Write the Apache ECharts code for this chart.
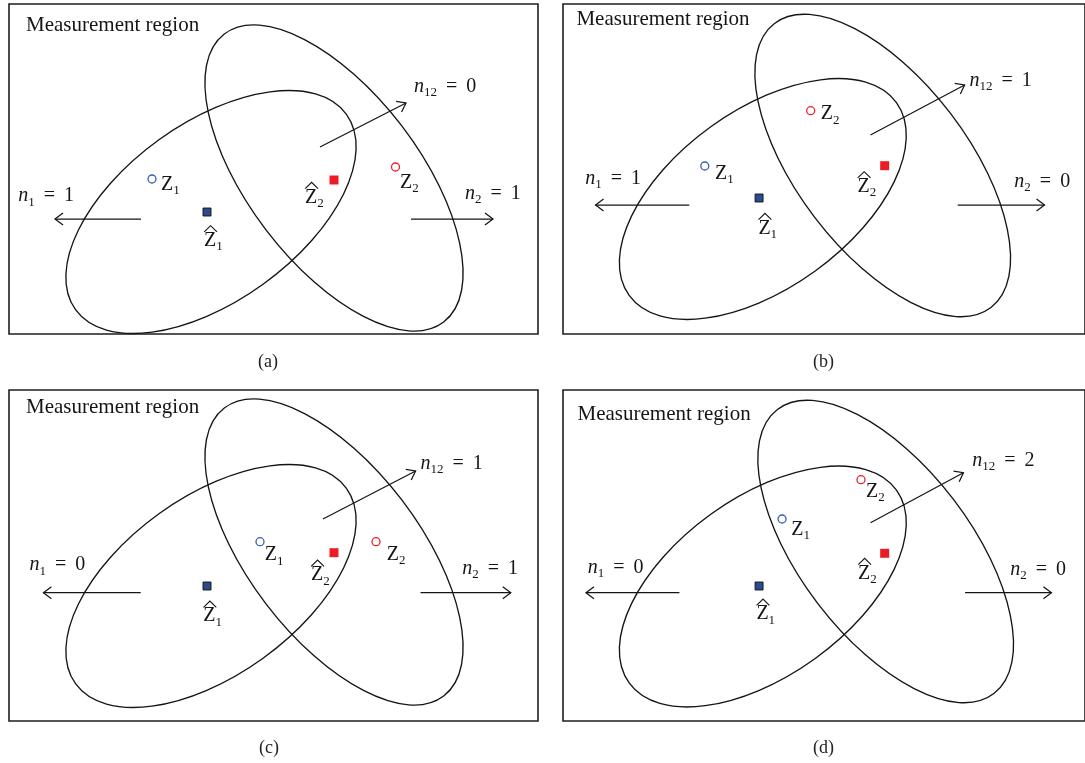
<!DOCTYPE html>
<html>
<head>
<meta charset="utf-8">
<script src="https://cdn.jsdelivr.net/npm/echarts@6/dist/echarts.min.js"></script>
<style>
  html, body { margin: 0; padding: 0; background: #fff; }
  #chart { width: 1085px; height: 763px; }
</style>
</head>
<body>
<div id="chart"></div>
<script>
// ---- Data: two tracks, their validation gates and the measurements, per panel (a)-(d) ----
const panelNames = ['(a)', '(b)', '(c)', '(d)'];

// Gate ellipse centres (measurement-space units)
const gate1Centre = [[202, 208], [202.5, 195], [202, 196], [202.5, 196.5]];
const gate2Centre = [[325, 174], [324, 161.5], [325, 162], [327, 161.5]];
// Gate shape: semi-major axis, semi-minor axis, tilt in degrees
const gate1Shape = [167, 89, 35.8];
const gate2Shape = [181, 85.5, -52.7];

// Predicted measurements (Ẑ1, Ẑ2)
const predicted1 = [[198, 208], [198.7, 194], [198, 196], [198.7, 196]];
const predicted2 = [[325, 176], [326, 161.7], [325, 162.7], [326, 163.3]];
// Received measurements (Z1, Z2)
const measured1 = [[143, 175], [143.7, 162], [251, 151.7], [222, 129]];
const measured2 = [[386.5, 163], [251, 106.7], [367, 151.7], [302, 89.7]];

// Measurement counts: only in gate 1, in both gates, only in gate 2
const n1Counts = [1, 1, 0, 0];
const n12Counts = [0, 1, 1, 2];
const n2Counts = [1, 0, 1, 0];

// ---- Layout ----
const panelBox = [[9, 4, 529, 330], [563, 4, 529, 330], [9, 390, 529, 331], [563, 390, 529, 331]];
const captionAt = [[268, 362], [823.6, 362], [269, 748], [823.6, 748]];

// Arrows: tail x, tail y, head x, head y
const arrowN1 = [[132, 215, 46, 215], [128, 201, 33, 201], [131.7, 202.7, 34.4, 202.7], [118, 202.7, 23.3, 202.7]];
const arrowN12 = [[311, 143, 397, 99], [311.6, 131, 407, 81], [314, 129, 406.6, 81], [311.6, 132.7, 405.8, 82.7]];
const arrowN2 = [[402, 215, 484, 215], [400, 201, 488, 201], [411.5, 202.7, 501.8, 202.7], [407.5, 202.7, 495, 202.7]];

// Text anchors: left x, baseline y
const titleAt = [[17, 28.5], [13.6, 22.7], [17, 25], [14.7, 31.7]];
const n1At = [[9.3, 198.7], [22.6, 181], [20.5, 181.7], [25, 184]];
const n12At = [[405, 89.3], [412, 83], [411.5, 80], [414.8, 77.3]];
const n2At = [[456, 196], [457.4, 184.3], [453.2, 185], [453.3, 186]];
const measured1LabelAt = [[152, 187], [154, 176], [255.8, 171.7], [231.4, 146]];
const measured2LabelAt = [[391, 185], [261.3, 116.7], [377.8, 171], [307, 108.3]];
const predicted1LabelAt = [[195, 243.3], [198, 231], [194.3, 232.7], [196, 230.7]];
const predicted2LabelAt = [[296, 200], [298.5, 189.3], [302, 191.7], [299, 190]];

// ---- Styles ----
const SERIF = '"Liberation Serif", "Times New Roman", serif';
const INK = '#151515';
const BLUE = '#3a5cb4';
const RED = '#e8202a';
const FS = 20;
const TITLE_FS = 21;

const RICH = {
  n: { fontFamily: SERIF, fontSize: FS, fontStyle: 'italic', lineHeight: 26, fill: INK, color: INK },
  t: { fontFamily: SERIF, fontSize: FS, lineHeight: 26, fill: INK, color: INK },
  s: { fontFamily: SERIF, fontSize: 13, lineHeight: 13, verticalAlign: 'bottom', fill: INK, color: INK }
};

function renderGate(params, api) {
  const c = api.coord([api.value(0), api.value(1)]);
  const unit = api.size([1, 1]);
  return {
    type: 'ellipse',
    x: c[0],
    y: c[1],
    rotation: api.value(4) * Math.PI / 180,
    shape: { cx: 0, cy: 0, rx: api.value(2) * unit[0], ry: api.value(3) * unit[1] },
    style: { fill: null, stroke: INK, lineWidth: 1.35 }
  };
}

function renderArrow(params, api) {
  const p = api.coord([api.value(0), api.value(1)]);
  const q = api.coord([api.value(2), api.value(3)]);
  const ang = Math.atan2(q[1] - p[1], q[0] - p[0]);
  const len = 10, half = 0.64;
  const w1 = [q[0] - len * Math.cos(ang - half), q[1] - len * Math.sin(ang - half)];
  const w2 = [q[0] - len * Math.cos(ang + half), q[1] - len * Math.sin(ang + half)];
  return {
    type: 'group',
    children: [
      { type: 'line', shape: { x1: p[0], y1: p[1], x2: q[0], y2: q[1] }, style: { stroke: INK, lineWidth: 1.25 } },
      { type: 'polyline', shape: { points: [w1, q, w2] }, style: { stroke: INK, fill: null, lineWidth: 1.25 } }
    ]
  };
}

function noteRenderer(notes) {
  return function (params, api) {
    const note = notes[params.dataIndex];
    const p = api.coord([api.value(0), api.value(1)]);
    const size = note.size || FS;
    const children = [{
      type: 'text',
      x: p[0],
      y: p[1] - 0.3375 * size,
      style: {
        text: note.text,
        rich: RICH,
        align: 'left',
        verticalAlign: 'middle',
        fontFamily: SERIF,
        fontSize: size,
        fill: INK
      }
    }];
    if (note.hat) {
      // wide hat over the Z of a predicted measurement
      children.push({
        type: 'polyline',
        shape: { points: [[p[0] + 0.2, p[1] - 15.4], [p[0] + 6.6, p[1] - 21.6], [p[0] + 13, p[1] - 15.4]] },
        style: { stroke: INK, fill: null, lineWidth: 1.15 }
      });
    }
    return { type: 'group', children: children };
  };
}

function panelNotes(i) {
  const eq = ' \u2009=\u2009 ';
  return [
    { at: titleAt[i], text: 'Measurement region', size: TITLE_FS },
    { at: n1At[i], text: '{n|n}{s|1}{t|' + eq + n1Counts[i] + '}' },
    { at: n12At[i], text: '{n|n}{s|12}{t|' + eq + n12Counts[i] + '}' },
    { at: n2At[i], text: '{n|n}{s|2}{t|' + eq + n2Counts[i] + '}' },
    { at: measured1LabelAt[i], text: '{t|Z}{s|1}' },
    { at: measured2LabelAt[i], text: '{t|Z}{s|2}' },
    { at: predicted1LabelAt[i], text: '{t|Z}{s|1}', hat: true },
    { at: predicted2LabelAt[i], text: '{t|Z}{s|2}', hat: true }
  ];
}

const grids = [], xAxes = [], yAxes = [], series = [];

panelNames.forEach(function (name, i) {
  const box = panelBox[i];
  grids.push({
    left: box[0], top: box[1], width: box[2], height: box[3],
    show: true, borderColor: '#1e1e1e', borderWidth: 1.6, backgroundColor: '#fff',
    containLabel: false
  });
  xAxes.push({ gridIndex: i, type: 'value', min: 0, max: box[2], show: false });
  yAxes.push({ gridIndex: i, type: 'value', min: 0, max: box[3], inverse: true, show: false });

  series.push({
    type: 'custom', name: 'gates ' + name, xAxisIndex: i, yAxisIndex: i,
    renderItem: renderGate, silent: true,
    data: [gate1Centre[i].concat(gate1Shape), gate2Centre[i].concat(gate2Shape)]
  });

  series.push({
    type: 'custom', name: 'counts ' + name, xAxisIndex: i, yAxisIndex: i,
    renderItem: renderArrow, silent: true,
    data: [arrowN1[i], arrowN12[i], arrowN2[i]]
  });

  series.push({
    type: 'scatter', name: 'measured ' + name, xAxisIndex: i, yAxisIndex: i,
    symbol: 'circle', symbolSize: 8, silent: true,
    itemStyle: { color: '#fff', borderWidth: 1.3, opacity: 1 },
    data: [
      { value: measured1[i], itemStyle: { borderColor: BLUE } },
      { value: measured2[i], itemStyle: { borderColor: RED } }
    ]
  });

  series.push({
    type: 'scatter', name: 'predicted ' + name, xAxisIndex: i, yAxisIndex: i,
    symbol: 'rect', silent: true,
    itemStyle: { opacity: 1 },
    data: [
      { value: predicted1[i], symbolSize: 8, itemStyle: { color: '#2b4b8c', borderColor: '#111', borderWidth: 0.9, opacity: 1 } },
      { value: predicted2[i], symbolSize: 9, itemStyle: { color: '#ec1c24', opacity: 1 } }
    ]
  });

  const notes = panelNotes(i);
  series.push({
    type: 'custom', name: 'notes ' + name, xAxisIndex: i, yAxisIndex: i,
    renderItem: noteRenderer(notes), silent: true,
    data: notes.map(function (n) { return n.at; })
  });
});

const chart = echarts.init(document.getElementById('chart'), null, { renderer: 'canvas' });
chart.setOption({
  animation: false,
  backgroundColor: '#fff',
  grid: grids,
  xAxis: xAxes,
  yAxis: yAxes,
  graphic: panelNames.map(function (name, i) {
    return {
      type: 'text', x: captionAt[i][0], y: captionAt[i][1], silent: true,
      style: { text: name, fontFamily: SERIF, fontSize: 18, fill: '#222', align: 'center', verticalAlign: 'middle' }
    };
  }),
  series: series
});
</script>
</body>
</html>
